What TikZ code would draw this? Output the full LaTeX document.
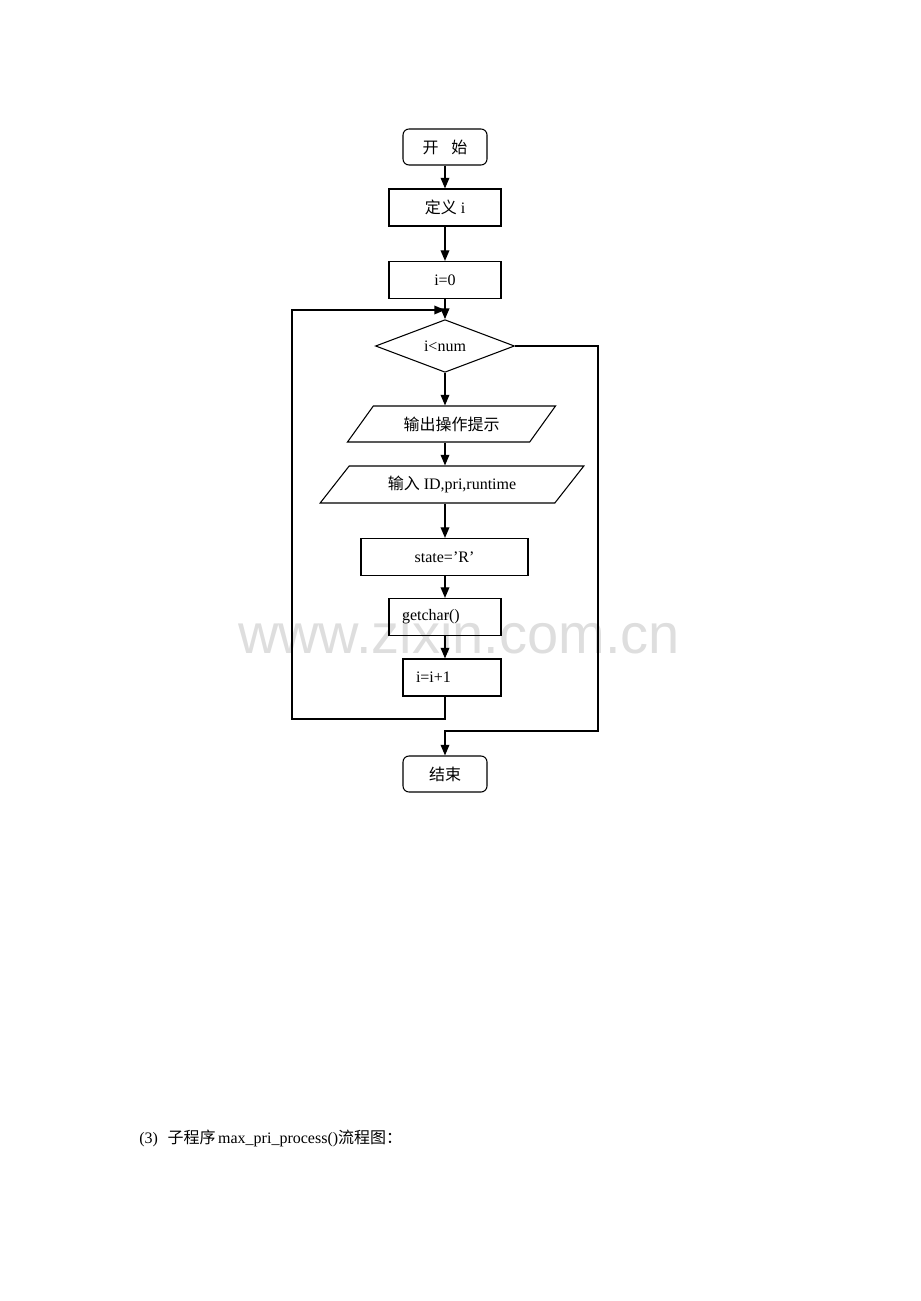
\documentclass[tikz,border=0pt]{standalone}
\usepackage{fontspec}
\setmainfont{Liberation Serif}
\newfontfamily\zh{Noto Sans CJK SC}
\newfontfamily\wmfont{Liberation Sans}
\usetikzlibrary{shapes.geometric,arrows.meta}
\tikzset{
  proc/.style={rectangle,draw=black,line width=0.8pt,minimum width=84pt,minimum height=27.75pt,inner sep=0pt},
  term/.style={rectangle,rounded corners=4.5pt,draw=black,line width=0.8pt,minimum width=63pt,minimum height=27pt,inner sep=0pt},
  decision/.style={diamond,draw=black,line width=0.8pt,minimum width=104.25pt,minimum height=36pt,inner sep=0pt},
  io/.style={trapezium,trapezium left angle=43,trapezium right angle=137,trapezium stretches=true,draw=black,line width=0.8pt,minimum height=27pt,inner sep=0pt},
  arr/.style={line width=1pt,-{Triangle[length=8pt,width=6.5pt]}},
  wire/.style={line width=0.8pt}
}
\begin{document}
\begin{tikzpicture}[x=0.75pt,y=-0.75pt,font=\fontsize{12pt}{14pt}\selectfont]
\useasboundingbox (0,0) rectangle (920,1301);

\node (mark) at (459,633) {\wmfont\fontsize{42pt}{48pt}\selectfont\color{black!13}www.zixin.com.cn};

\node (start) at (445,147) [term] {{\zh 开}\hspace{0.8em}{\zh 始}};
\node (def) at (445,207.5) [proc] {{\zh 定义} i};
\node (init) at (445,280) [proc] {i=0};
\node (cond) at (445,346) [decision] {i\textless num};
\node (out) at (451.5,424) [io,minimum width=156.75pt] {\zh 输出操作提示};
\node (in) at (452,484.5) [io,minimum width=198pt,minimum height=27.75pt] {{\zh 输入} ID,pri,runtime};
\node (state) at (444.5,557) [proc,minimum width=125.25pt] {state=’R’};
\node (getc) at (445,617) [proc,text width=64.5pt,align=left] {getchar()};
\node (inc) at (452,677.5) [proc,minimum width=73.5pt,text width=54pt,align=left] {i=i+1};
\node (stop) at (445,774) [term] {\zh 结束};

\coordinate (back) at (292,719);
\coordinate (entry) at (445,310);
\coordinate (exitc) at (598,731);

\draw[arr] (start) -- (def);
\draw[arr] (def) -- (init);
\draw[arr] (init) -- (cond);
\draw[arr] (cond.south) -- (cond.south |- out.north);
\draw[arr] (cond.south |- out.south) -- (cond.south |- in.north);
\draw[arr] (cond.south |- in.south) -- (cond.south |- state.north);
\draw[arr] (cond.south |- state.south) -- (getc.north);
\draw[arr] (getc.south) -- (getc.south |- inc.north);
\draw[arr] (getc.south |- inc.south) |- (back) |- (entry);
\draw[arr] (cond.east) -| (exitc) -| (stop.north);

\node (caption) at (139,1138) [anchor=west,inner sep=0pt] {(3)\hspace{0.6em}{\zh 子程序}\,max\_pri\_process(){\zh 流程图：}};
\end{tikzpicture}
\end{document}
